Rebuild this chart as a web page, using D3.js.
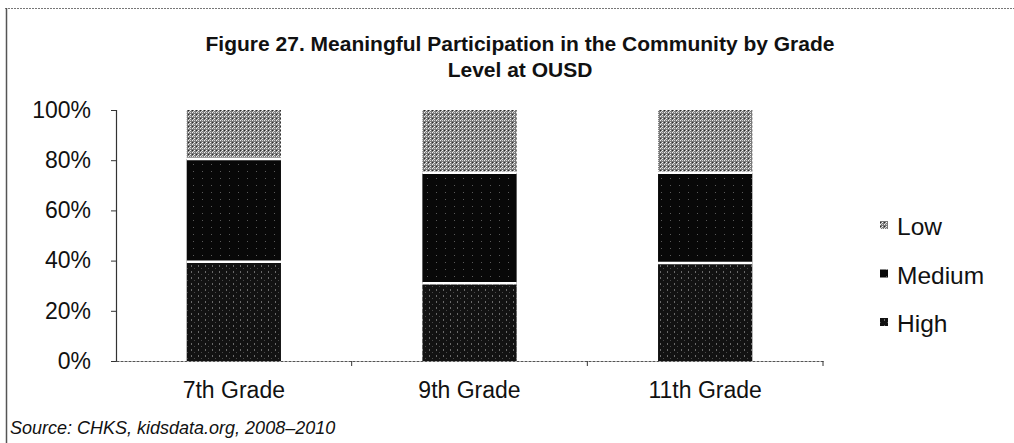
<!DOCTYPE html>
<html>
<head>
<meta charset="utf-8">
<script src="https://cdn.jsdelivr.net/npm/d3@7"></script>
<style>
  html, body { margin: 0; padding: 0; background: #fff; }
  svg { display: block; }
</style>
</head>
<body>
<svg id="chart" width="1014" height="443"></svg>
<script>
// Grade levels on the x axis
const grades = ["7th Grade", "9th Grade", "11th Grade"];
// Share of students (%) in each participation level, bottom to top
const high   = [39.5, 31, 39];
const medium = [41, 44, 36];
const low    = [19.5, 25, 25];
const seriesNames = ["High", "Medium", "Low"];
const yTicks = [0, 20, 40, 60, 80, 100];

const svg = d3.select("#chart");
const W = 1014, H = 443;
const margin = { left: 116, right: 191, top: 110, bottom: 82 };
const FONT = "Liberation Sans, Arial, sans-serif";

const x = d3.scaleBand().domain(grades).range([margin.left, W - margin.right]).paddingInner(0.6).paddingOuter(0.3);
const xOuter = d3.scaleBand().domain(grades).range([margin.left, W - margin.right]);
const y = d3.scaleLinear().domain([0, 100]).range([H - margin.bottom, margin.top]);

// Fill patterns: speckled grey for Low, near-black for Medium/High
const defs = svg.append("defs");
const pLow = defs.append("pattern").attr("id", "pLow").attr("width", 4).attr("height", 4).attr("patternUnits", "userSpaceOnUse");
pLow.append("rect").attr("width", 4).attr("height", 4).attr("fill", "#7a7a7a");
pLow.append("rect").attr("x", 0).attr("y", 0).attr("width", 1).attr("height", 1).attr("fill", "#f0f0f0");
pLow.append("rect").attr("x", 2).attr("y", 2).attr("width", 1).attr("height", 1).attr("fill", "#f8f8f8");
pLow.append("rect").attr("x", 2).attr("y", 0).attr("width", 1).attr("height", 1).attr("fill", "#cfcfcf");
pLow.append("rect").attr("x", 1).attr("y", 3).attr("width", 1).attr("height", 1).attr("fill", "#d8d8d8");
pLow.append("rect").attr("x", 0).attr("y", 2).attr("width", 1).attr("height", 1).attr("fill", "#2a2a2a");
const pMed = defs.append("pattern").attr("id", "pMed").attr("width", 9).attr("height", 7).attr("patternUnits", "userSpaceOnUse");
pMed.append("rect").attr("width", 9).attr("height", 7).attr("fill", "#080808");
pMed.append("rect").attr("x", 4).attr("y", 3).attr("width", 1).attr("height", 1).attr("fill", "#5a5a5a");
const pHigh = defs.append("pattern").attr("id", "pHigh").attr("width", 7).attr("height", 6).attr("patternUnits", "userSpaceOnUse");
pHigh.append("rect").attr("width", 7).attr("height", 6).attr("fill", "#121212");
pHigh.append("rect").attr("x", 2).attr("y", 1).attr("width", 1).attr("height", 2).attr("fill", "#6a6a6a");
pHigh.append("rect").attr("x", 5).attr("y", 4).attr("width", 1).attr("height", 1).attr("fill", "#4a4a4a");
const fills = { High: "url(#pHigh)", Medium: "url(#pMed)", Low: "url(#pLow)" };

// Page frame: dotted top rule and left rule
svg.append("line").attr("x1", 5).attr("x2", W).attr("y1", 8.5).attr("y2", 8.5)
  .attr("stroke", "#777").attr("stroke-width", 1).attr("stroke-dasharray", "2,1");
svg.append("line").attr("x1", 6.5).attr("x2", 6.5).attr("y1", 8).attr("y2", H)
  .attr("stroke", "#555").attr("stroke-width", 1.5);

// Title
const title = svg.append("text").attr("text-anchor", "middle")
  .attr("font-family", FONT).attr("font-weight", "bold")
  .attr("font-size", 21).attr("fill", "#111");
title.append("tspan").attr("x", 520).attr("y", 51).text("Figure 27. Meaningful Participation in the Community by Grade");
title.append("tspan").attr("x", 520).attr("y", 77).text("Level at OUSD");

// Stacked data
const rows = grades.map((g, i) => ({ grade: g, High: high[i], Medium: medium[i], Low: low[i] }));
const stacked = d3.stack().keys(seriesNames)(rows);

const g = svg.append("g");
stacked.forEach(layer => {
  g.selectAll(null).data(layer).enter().append("rect")
    .attr("x", d => x(d.data.grade))
    .attr("width", x.bandwidth())
    .attr("y", d => y(d[1]))
    .attr("height", d => y(d[0]) - y(d[1]))
    .attr("fill", fills[layer.key]);
});
// White separators between stacked segments
stacked.slice(0, 2).forEach(layer => {
  g.selectAll(null).data(layer).enter().append("line")
    .attr("x1", d => x(d.data.grade)).attr("x2", d => x(d.data.grade) + x.bandwidth())
    .attr("y1", d => y(d[1])).attr("y2", d => y(d[1]))
    .attr("stroke", "#fff").attr("stroke-width", 2.5);
});

// Y axis
const yAxis = svg.append("g").attr("transform", `translate(${margin.left},0)`)
  .call(d3.axisLeft(y).tickValues(yTicks).tickFormat(d => d + "%").tickSize(5).tickPadding(20));
yAxis.select(".domain").attr("stroke", "#333").attr("stroke-width", 1.2);
yAxis.selectAll(".tick line").attr("stroke", "#333");
yAxis.selectAll("text").attr("font-family", FONT)
  .attr("font-size", 23).attr("fill", "#111");

// X axis
const xAxis = svg.append("g").attr("transform", `translate(0,${H - margin.bottom})`)
  .call(d3.axisBottom(xOuter).tickSize(0).tickPadding(21));
xAxis.select(".domain").attr("stroke", "#555").attr("stroke-width", 1).attr("stroke-dasharray", "3,1");
xAxis.selectAll("text").attr("font-family", FONT)
  .attr("font-size", 23).attr("fill", "#111");
// Category divider ticks
svg.append("g").selectAll("line").data(grades).enter().append("line")
  .attr("x1", d => xOuter(d) + xOuter.bandwidth()).attr("x2", d => xOuter(d) + xOuter.bandwidth())
  .attr("y1", H - margin.bottom).attr("y2", H - margin.bottom + 5)
  .attr("stroke", "#333");

// Legend (top to bottom: Low, Medium, High)
const legend = svg.append("g");
const legendOrder = ["Low", "Medium", "High"];
legendOrder.forEach((name, i) => {
  const base = 235 + i * 48.5;
  legend.append("rect").attr("x", 880).attr("y", base - 14).attr("width", 8).attr("height", 8)
    .attr("fill", fills[name]);
  legend.append("text").attr("x", 897).attr("y", base)
    .attr("font-family", FONT).attr("font-size", 24.5)
    .attr("fill", "#111").text(name);
});

// Source note
svg.append("text").attr("x", 10).attr("y", 434)
  .attr("font-family", FONT).attr("font-style", "italic")
  .attr("font-size", 18).attr("fill", "#111").text("Source: CHKS, kidsdata.org, 2008–2010");
</script>
</body>
</html>
